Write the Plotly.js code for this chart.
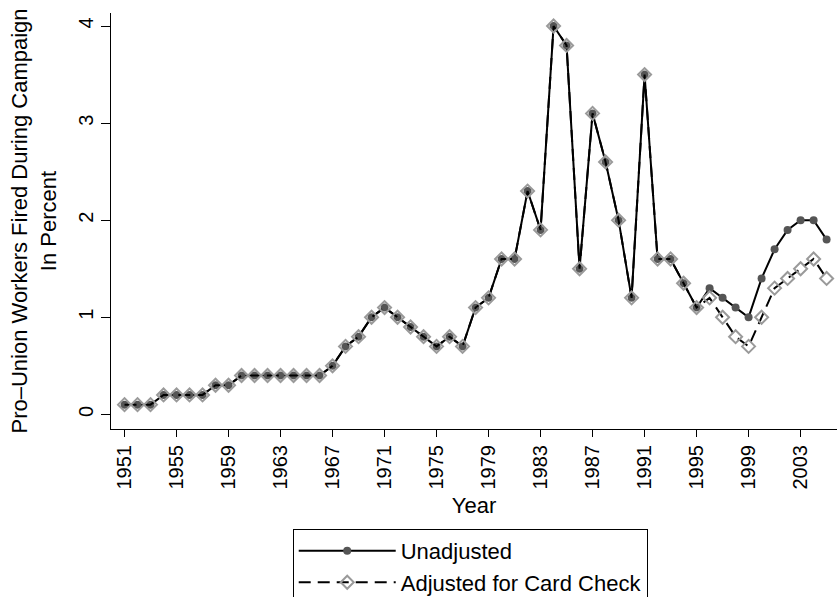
<!DOCTYPE html>
<html>
<head>
<meta charset="utf-8">
<script src="https://cdn.plot.ly/plotly-3.0.1.min.js"></script>
<style>html,body{margin:0;padding:0;background:#fff;}#chart{width:837px;height:597px;}</style>
</head>
<body>
<div id="chart"></div>
<script>
var years = [1951,1952,1953,1954,1955,1956,1957,1958,1959,1960,
             1961,1962,1963,1964,1965,1966,1967,1968,1969,1970,
             1971,1972,1973,1974,1975,1976,1977,1978,1979,1980,
             1981,1982,1983,1984,1985,1986,1987,1988,1989,1990,
             1991,1992,1993,1994,1995,1996,1997,1998,1999,2000,
             2001,2002,2003,2004,2005];
var unadjusted = [0.1,0.1,0.1,0.2,0.2,0.2,0.2,0.3,0.3,0.4,
                  0.4,0.4,0.4,0.4,0.4,0.4,0.5,0.7,0.8,1.0,
                  1.1,1.0,0.9,0.8,0.7,0.8,0.7,1.1,1.2,1.6,
                  1.6,2.3,1.9,4.0,3.8,1.5,3.1,2.6,2.0,1.2,
                  3.5,1.6,1.6,1.35,1.1,1.3,1.2,1.1,1.0,1.4,
                  1.7,1.9,2.0,2.0,1.8];
var adjusted = [0.1,0.1,0.1,0.2,0.2,0.2,0.2,0.3,0.3,0.4,
                0.4,0.4,0.4,0.4,0.4,0.4,0.5,0.7,0.8,1.0,
                1.1,1.0,0.9,0.8,0.7,0.8,0.7,1.1,1.2,1.6,
                1.6,2.3,1.9,4.0,3.8,1.5,3.1,2.6,2.0,1.2,
                3.5,1.6,1.6,1.35,1.1,1.2,1.0,0.8,0.7,1.0,
                1.3,1.4,1.5,1.6,1.4];
var xTickVals = [1951,1955,1959,1963,1967,1971,1975,1979,1983,1987,1991,1995,1999,2003];
var xTickText = ["1951","1955","1959","1963","1967","1971","1975","1979","1983","1987","1991","1995","1999","2003"];
var yTickVals = [0,1,2,3,4];
var yTickText = ["0","1","2","3","4"];
var seriesNames = ["Unadjusted","Adjusted for Card Check"];

var FONT = "Liberation Sans, Arial, Helvetica, sans-serif";

var traces = [
  {
    x: years, y: unadjusted, name: seriesNames[0], type: "scatter", mode: "lines+markers",
    line: {color: "#000", width: 2},
    marker: {symbol: "circle", size: 8, color: "#555555", line: {width: 0}}
  },
  {
    x: years, y: adjusted, name: seriesNames[1], type: "scatter", mode: "lines+markers",
    line: {color: "#000", width: 2, dash: "12px,7px"},
    marker: {symbol: "diamond-open", size: 10, color: "#9a9a9a", line: {width: 2, color: "#9a9a9a"}}
  }
];

var layout = {
  width: 837, height: 597,
  margin: {l: 111, r: 0, t: 13, b: 168, autoexpand: false},
  paper_bgcolor: "#fff", plot_bgcolor: "#fff",
  font: {family: FONT, size: 20, color: "#000"},
  showlegend: true,
  legend: {
    x: 0.2503, y: -0.2400, xanchor: "left", yanchor: "top",
    bordercolor: "#000", borderwidth: 1, bgcolor: "#fff",
    font: {family: FONT, size: 22, color: "#000"},
    itemwidth: 97, tracegroupgap: 0
  },
  xaxis: {
    range: [1949.96, 2005.8],
    tickmode: "array", tickvals: xTickVals, ticktext: xTickText, tickangle: -90,
    ticks: "outside", ticklen: 7, tickwidth: 1, tickcolor: "#000",
    showline: true, linecolor: "#000", linewidth: 1, showgrid: false, zeroline: false,
    tickfont: {family: FONT, size: 20, color: "#000"},
    title: {text: "Year", font: {family: FONT, size: 22, color: "#000"}, standoff: 9},
    automargin: false
  },
  yaxis: {
    range: [-0.151, 4.134],
    tickmode: "array", tickvals: yTickVals, ticktext: yTickText, tickangle: -90,
    ticks: "outside", ticklen: 9, tickwidth: 1, tickcolor: "#000",
    showline: true, linecolor: "#000", linewidth: 1, showgrid: false, zeroline: false,
    tickfont: {family: FONT, size: 20, color: "#000"},
    title: {text: "Pro\u2013Union Workers Fired During Campaign<br>In Percent", font: {family: FONT, size: 22, color: "#000"}, standoff: 12},
    automargin: false
  }
};

Plotly.newPlot("chart", traces, layout, {displayModeBar: false, staticPlot: true});
</script>
</body>
</html>
